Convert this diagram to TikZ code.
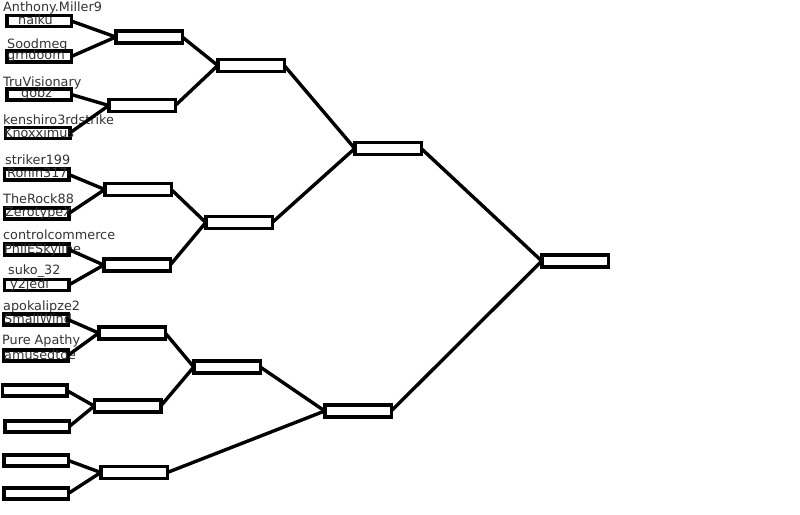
\documentclass[tikz,border=0pt]{standalone}
\usepackage{fontspec}
\setmainfont{DejaVu Sans}
\begin{document}
\begin{tikzpicture}[x=1pt,y=-1pt,
  boxnode/.style={draw=black,line width=3.5pt,minimum width=64.5pt,minimum height=11pt,inner sep=0pt,outer sep=0pt},
  bignode/.style={boxnode,minimum width=66.5pt,minimum height=12pt},
  connline/.style={line width=3.4pt,black},
  txtlabel/.style={anchor=base west,inner sep=0pt,text=black!80,font=\fontsize{12.8}{14}\selectfont}]
\useasboundingbox (0,0) rectangle (800,514);
% names above boxes
\node[txtlabel] (t1) at (3,12) {Anthony.Miller9};
\node[txtlabel] (t2) at (7,48) {Soodmeg};
\node[txtlabel] (t3) at (3,86) {TruVisionary};
\node[txtlabel] (t4) at (3,124) {kenshiro3rdstrike};
\node[txtlabel] (t5) at (5,164) {striker199};
\node[txtlabel] (t6) at (3,203) {TheRock88};
\node[txtlabel] (t7) at (3,239) {controlcommerce};
\node[txtlabel] (t8) at (8,274) {suko\_32};
\node[txtlabel] (t9) at (3,310) {apokalipze2};
\node[txtlabel] (t10) at (2,344) {Pure Apathy};
% first round boxes
\node[boxnode] (n1) at (39,21) {};
\node[boxnode] (n2) at (39,56.5) {};
\node[boxnode] (n3) at (39,94.5) {};
\node[boxnode] (n4) at (37.5,133) {};
\node[boxnode] (n5) at (36.5,174.5) {};
\node[boxnode] (n6) at (36.5,213.5) {};
\node[boxnode] (n7) at (36.5,249.5) {};
\node[boxnode] (n8) at (36.5,285) {};
\node[boxnode] (n9) at (35.5,319.5) {};
\node[boxnode] (n10) at (35.5,355.5) {};
\node[boxnode] (n11) at (34.5,390.5) {};
\node[boxnode] (n12) at (37,426.5) {};
\node[boxnode] (n13) at (36,460.5) {};
\node[boxnode] (n14) at (36,493.5) {};
% names inside boxes
\node[txtlabel] (i1) at (18,24) {naiku};
\node[txtlabel] (i2) at (7,59.5) {grndoom};
\node[txtlabel] (i3) at (21,97.5) {gobz};
\node[txtlabel] (i4) at (4,137) {Knoxximus};
\node[txtlabel] (i5) at (7,177.5) {Ronin317};
\node[txtlabel] (i6) at (5,216.5) {ZerotypeX};
\node[txtlabel] (i7) at (4,253) {PhilESkyline};
\node[txtlabel] (i8) at (10,288) {y2jedi};
\node[txtlabel] (i9) at (4,323) {SmallWind};
\node[txtlabel] (i10) at (4,359) {amusedtoe};
% later rounds
\node[bignode] (A) at (149,37) {};
\node[bignode] (B) at (142,105.5) {};
\node[bignode] (C) at (138,189.5) {};
\node[bignode] (D) at (137,265) {};
\node[bignode] (E) at (132,333) {};
\node[bignode] (F) at (127.5,406) {};
\node[bignode] (G) at (134,472.5) {};
\node[bignode] (H) at (251,65.5) {};
\node[bignode] (I) at (239,222.5) {};
\node[bignode] (J) at (227,367) {};
\node[bignode] (K) at (358,411) {};
\node[bignode] (L) at (388,148.5) {};
\node[bignode] (M) at (575,261) {};
% connectors
\draw[connline] (n1.east) -- (A.west);
\draw[connline] (n2.east) -- (A.west);
\draw[connline] (n3.east) -- (B.west);
\draw[connline] (n4.east) -- (B.west);
\draw[connline] (n5.east) -- (C.west);
\draw[connline] (n6.east) -- (C.west);
\draw[connline] (n7.east) -- (D.west);
\draw[connline] (n8.east) -- (D.west);
\draw[connline] (n9.east) -- (E.west);
\draw[connline] (n10.east) -- (E.west);
\draw[connline] (n11.east) -- (F.west);
\draw[connline] (n12.east) -- (F.west);
\draw[connline] (n13.east) -- (G.west);
\draw[connline] (n14.east) -- (G.west);
\draw[connline] (A.east) -- (H.west);
\draw[connline] (B.east) -- (H.west);
\draw[connline] (C.east) -- (I.west);
\draw[connline] (D.east) -- (I.west);
\draw[connline] (E.east) -- (J.west);
\draw[connline] (F.east) -- (J.west);
\draw[connline] (J.east) -- (K.west);
\draw[connline] (G.east) -- (K.west);
\draw[connline] (H.east) -- (L.west);
\draw[connline] (I.east) -- (L.west);
\draw[connline] (L.east) -- (M.west);
\draw[connline] (K.east) -- (M.west);
\end{tikzpicture}
\end{document}
